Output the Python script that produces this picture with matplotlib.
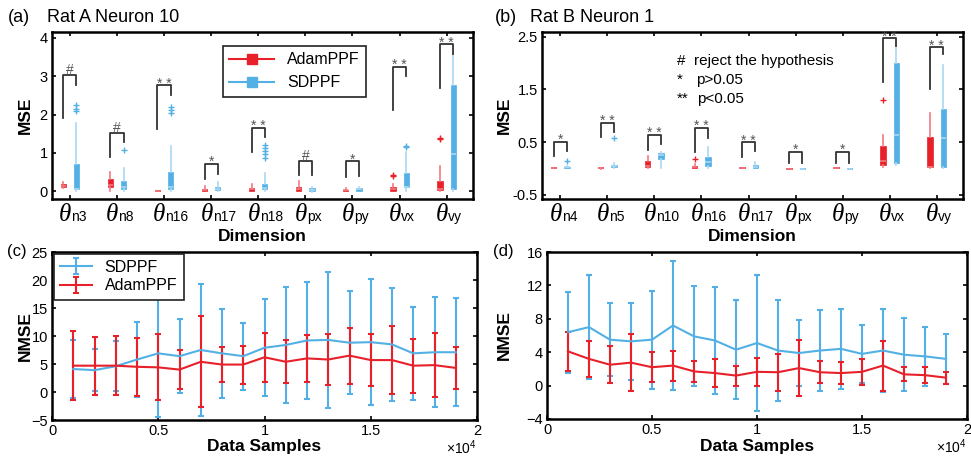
import matplotlib
matplotlib.use("Agg")
import matplotlib.pyplot as plt
from matplotlib.lines import Line2D

plt.rcParams['font.family'] = ['Liberation Sans', 'DejaVu Sans']
plt.rcParams['mathtext.fontset'] = 'custom'
plt.rcParams['mathtext.rm'] = 'Liberation Sans'

RED = '#E8202A'
BLUE = '#52B0E5'
RED_LT = '#F27A80'
BLUE_LT = '#A9D8F3'

# ---- panel (a): Rat A Neuron 10, box stats per dimension ----
a_labels = ['n3', 'n8', 'n16', 'n17', 'n18', 'px', 'py', 'vx', 'vy']
a_adam_lo = [0.09, 0.00, 0.00, 0.00, 0.00, 0.00, 0.00, 0.00, 0.00]
a_adam_q1 = [0.11, 0.10, 0.01, 0.01, 0.02, 0.02, 0.01, 0.02, 0.03]
a_adam_med = [0.15, 0.17, 0.02, 0.03, 0.05, 0.05, 0.03, 0.06, 0.05]
a_adam_q3 = [0.18, 0.32, 0.03, 0.06, 0.08, 0.10, 0.04, 0.10, 0.27]
a_adam_hi = [0.24, 0.50, 0.04, 0.15, 0.18, 0.27, 0.08, 0.20, 0.67]
a_adam_out = [[], [], [], [], [], [], [], [0.40, 0.43], [1.37, 1.40]]
a_sd_lo = [0.00, 0.00, 0.00, 0.00, 0.00, -0.01, 0.00, 0.00, 0.00]
a_sd_q1 = [0.05, 0.05, 0.07, 0.03, 0.05, 0.00, 0.02, 0.10, 0.05]
a_sd_med = [0.07, 0.10, 0.10, 0.06, 0.08, 0.03, 0.05, 0.12, 0.97]
a_sd_q3 = [0.72, 0.27, 0.50, 0.10, 0.20, 0.08, 0.08, 0.47, 2.77]
a_sd_hi = [1.78, 0.62, 1.18, 0.25, 0.48, 0.10, 0.10, 1.03, 3.58]
a_sd_out = [[2.10, 2.15, 2.25], [1.08], [2.05, 2.12, 2.20], [], [0.88, 0.96, 1.04, 1.12, 1.20],
            [], [], [1.15, 1.17], []]
a_br_left = [1.90, 0.90, 1.63, 0.33, 1.03, 0.42, 0.37, 2.13, 2.68]
a_br_top = [3.03, 1.52, 2.76, 0.72, 1.65, 0.79, 0.78, 3.24, 3.83]
a_br_right = [2.77, 1.29, 2.52, 0.46, 1.42, 0.42, 0.39, 3.00, 3.57]
a_sig = ['#', '#', '**', '*', '**', '#', '*', '**', '**']

# ---- panel (b): Rat B Neuron 1 ----
b_labels = ['n4', 'n5', 'n10', 'n16', 'n17', 'px', 'py', 'vx', 'vy']
b_adam_lo = [0.00, -0.01, 0.00, 0.00, 0.00, -0.01, 0.00, 0.03, 0.00]
b_adam_q1 = [0.00, 0.00, 0.02, 0.00, 0.00, -0.01, 0.00, 0.07, 0.02]
b_adam_med = [0.01, 0.01, 0.04, 0.02, 0.01, -0.01, 0.01, 0.15, 0.03]
b_adam_q3 = [0.02, 0.02, 0.15, 0.05, 0.02, 0.00, 0.02, 0.43, 0.60]
b_adam_hi = [0.03, 0.03, 0.23, 0.08, 0.03, 0.00, 0.03, 0.64, 1.05]
b_adam_out = [[], [], [], [0.17], [], [], [], [1.30], []]
b_sd_lo = [0.00, 0.00, 0.00, 0.00, 0.00, -0.01, -0.01, 0.07, 0.00]
b_sd_q1 = [0.00, 0.02, 0.17, 0.05, 0.01, -0.01, -0.01, 0.10, 0.03]
b_sd_med = [0.02, 0.04, 0.25, 0.12, 0.03, -0.01, -0.01, 0.63, 0.57]
b_sd_q3 = [0.03, 0.07, 0.30, 0.22, 0.06, 0.00, 0.00, 2.00, 1.12]
b_sd_hi = [0.05, 0.10, 0.31, 0.40, 0.13, 0.00, 0.00, 2.30, 1.97]
b_sd_out = [[0.14], [0.57], [], [], [], [], [], [], []]
b_br_left = [0.24, 0.60, 0.35, 0.32, 0.21, 0.10, 0.10, 1.64, 1.50]
b_br_top = [0.51, 0.87, 0.64, 0.77, 0.50, 0.32, 0.32, 2.47, 2.30]
b_br_right = [0.34, 0.70, 0.47, 0.58, 0.34, 0.10, 0.10, 2.33, 2.17]
b_sig = ['*', '**', '**', '**', '**', '*', '*', '**', '**']

# ---- panels (c), (d): NMSE vs data samples (mean, std) ----
samples = [1000, 2000, 3000, 4000, 5000, 6000, 7000, 8000, 9000, 10000,
           11000, 12000, 13000, 14000, 15000, 16000, 17000, 18000, 19000]
c_sd_mean = [4.1, 3.9, 4.6, 5.8, 6.9, 6.4, 7.5, 6.9, 6.4, 7.9, 8.4, 9.2, 9.3, 8.8, 8.9, 8.5, 6.9, 7.1, 7.1]
c_sd_std = [5.2, 3.7, 4.5, 6.7, 11.4, 6.6, 11.7, 8.0, 6.0, 8.7, 10.3, 10.5, 12.2, 9.2, 11.3, 10.1, 8.3, 9.8, 9.6]
c_adam_mean = [4.7, 4.7, 4.7, 4.5, 4.4, 4.0, 5.4, 4.9, 4.9, 6.2, 5.4, 6.0, 5.8, 6.5, 5.7, 5.7, 4.7, 4.8, 4.3]
c_adam_std = [6.2, 5.2, 5.3, 5.2, 5.9, 3.5, 8.1, 3.2, 3.4, 4.4, 3.8, 4.2, 4.6, 5.0, 4.7, 6.1, 4.8, 5.7, 3.8]
d_sd_mean = [6.4, 7.0, 5.5, 5.3, 5.5, 7.2, 5.9, 5.4, 4.3, 5.1, 4.2, 3.9, 4.2, 4.4, 3.8, 4.2, 3.7, 3.5, 3.2]
d_sd_std = [4.85, 6.2, 4.4, 4.6, 5.85, 7.7, 6.0, 6.4, 5.9, 8.15, 6.1, 3.9, 4.8, 4.75, 3.5, 5.0, 4.4, 3.5, 3.0]
d_adam_mean = [4.1, 3.2, 2.5, 2.75, 2.2, 2.4, 1.7, 1.5, 1.2, 1.65, 1.6, 2.1, 1.6, 1.5, 1.65, 2.4, 1.35, 1.25, 0.95]
d_adam_std = [2.35, 2.2, 2.2, 3.45, 1.8, 1.8, 1.3, 1.7, 1.2, 1.65, 2.2, 3.4, 1.3, 1.3, 1.55, 3.0, 0.85, 0.95, 0.7]


def make_stats(lo, q1, med, q3, hi, out):
    return [dict(whislo=lo[i], q1=q1[i], med=med[i], q3=q3[i], whishi=hi[i], fliers=out[i])
            for i in range(len(lo))]


def style_axes(ax):
    for sp in ax.spines.values():
        sp.set_linewidth(1.8)
    ax.tick_params(direction='in', top=True, right=True, length=3, width=1.2,
                   labelsize=10.5, pad=3)


def draw_boxes(ax, stats, pos, color, light):
    ax.bxp(stats, positions=pos, widths=0.11, patch_artist=True, showcaps=False,
           boxprops=dict(facecolor=color, edgecolor=color, linewidth=0.5),
           whiskerprops=dict(color=light, linewidth=1.2),
           medianprops=dict(color=light, linewidth=1.2),
           flierprops=dict(marker='+', markeredgecolor=color, markersize=4, markeredgewidth=1),
           manage_ticks=False)


def box_panel(ax, labels, adam, sd, br_left, br_top, br_right, sig):
    n = len(labels)
    pos = list(range(1, n + 1))
    d = 0.14
    draw_boxes(ax, make_stats(*adam), [p - d for p in pos], RED, RED_LT)
    draw_boxes(ax, make_stats(*sd), [p + d for p in pos], BLUE, BLUE_LT)
    tr = ax.get_xaxis_transform()
    for i, p in enumerate(pos):
        ax.plot([p - d, p - d, p + d, p + d], [br_left[i], br_top[i], br_top[i], br_right[i]],
                color='#333333', lw=1.3)
        if sig[i] == '#':
            s, dy = '#', 1.0
        else:
            s, dy = ' '.join(sig[i]), -1.8
        ax.annotate(s, (p, br_top[i]), xytext=(0, dy), textcoords='offset points',
                    ha='center', va='baseline', fontsize=10, color='#555555')
        # theta tick labels: big italic serif theta + small sans subscript
        ax.annotate('\u03b8', (p, 0), xycoords=tr, xytext=(1, -16),
                    textcoords='offset points', ha='right', va='baseline',
                    fontsize=18, family='Liberation Serif', style='italic')
        ax.annotate(labels[i], (p, 0), xycoords=tr, xytext=(1, -16),
                    textcoords='offset points', ha='left', va='baseline', fontsize=10)
    ax.set_xticks(pos)
    ax.set_xticklabels([''] * n)
    ax.set_xlabel('Dimension', fontsize=12.5, fontweight='bold')
    ax.xaxis.set_label_coords(0.5, -0.18)
    ax.set_ylabel('MSE', fontsize=12.5, fontweight='bold')


fig = plt.figure(figsize=(9.71, 4.62), dpi=100)
W, H = 971.0, 462.0

# (a)
ax_a = fig.add_axes([52 / W, 1 - 199 / H, 421 / W, 167 / H])
box_panel(ax_a, a_labels,
          (a_adam_lo, a_adam_q1, a_adam_med, a_adam_q3, a_adam_hi, a_adam_out),
          (a_sd_lo, a_sd_q1, a_sd_med, a_sd_q3, a_sd_hi, a_sd_out),
          a_br_left, a_br_top, a_br_right, a_sig)
ax_a.set_xlim(0.62, 9.56)
ax_a.set_ylim(-0.2, 4.15)
ax_a.set_yticks([0, 1, 2, 3, 4])
ax_a.yaxis.set_label_coords(-0.045, 0.5)
style_axes(ax_a)
hl = [Line2D([], [], color=RED, marker='s', markersize=7, lw=1.5),
      Line2D([], [], color=BLUE, marker='s', markersize=7, lw=1.5)]
leg = ax_a.legend(hl, ['AdamPPF', 'SDPPF'], loc='upper left', bbox_to_anchor=(0.406, 0.916),
                  fontsize=11.5, fancybox=False, framealpha=1, edgecolor='#222222',
                  handlelength=2.8, borderaxespad=0)
leg.get_frame().set_linewidth(1.2)

# (b)
ax_b = fig.add_axes([542 / W, 1 - 199 / H, 421 / W, 167 / H])
box_panel(ax_b, b_labels,
          (b_adam_lo, b_adam_q1, b_adam_med, b_adam_q3, b_adam_hi, b_adam_out),
          (b_sd_lo, b_sd_q1, b_sd_med, b_sd_q3, b_sd_hi, b_sd_out),
          b_br_left, b_br_top, b_br_right, b_sig)
ax_b.set_xlim(0.61, 9.56)
ax_b.set_ylim(-0.58, 2.59)
ax_b.set_yticks([-0.5, 0.5, 1.5, 2.5])
ax_b.set_yticklabels(['-0.5', '0.5', '1.5', '2.5'])
ax_b.yaxis.set_label_coords(-0.071, 0.5)
style_axes(ax_b)
for sym, txt, xs, ys in [('#', 'reject the hypothesis', 0.361, 0.826),
                         ('*', 'p>0.05', 0.365, 0.713),
                         ('**', 'p<0.05', 0.368, 0.60)]:
    ax_b.text(0.32, ys, sym, transform=ax_b.transAxes, fontsize=11, va='center')
    ax_b.text(xs, ys, txt, transform=ax_b.transAxes, fontsize=11, va='center')


def err_panel(ax, sd_m, sd_s, ad_m, ad_s):
    eb1 = ax.errorbar(samples, sd_m, yerr=sd_s, color=BLUE, lw=1.5, elinewidth=1.5,
                      capsize=2.3, capthick=1.5)
    eb2 = ax.errorbar(samples, ad_m, yerr=ad_s, color=RED, lw=1.5, elinewidth=1.5,
                      capsize=2.3, capthick=1.5)
    ax.set_xlim(0, 20000)
    ax.set_xticks([0, 5000, 10000, 15000, 20000])
    ax.set_xticklabels(['0', '0.5', '1', '1.5', '2'])
    ax.set_xlabel('Data Samples', fontsize=12.5, fontweight='bold')
    ax.set_ylabel('NMSE', fontsize=12.5, fontweight='bold')
    ax.text(1.0, -0.165, r'$\times10^{4}$', transform=ax.transAxes, ha='right', va='center',
            fontsize=10)
    style_axes(ax)
    return eb1, eb2


# (c)
ax_c = fig.add_axes([52 / W, 1 - 420 / H, 425 / W, 168 / H])
e1, e2 = err_panel(ax_c, c_sd_mean, c_sd_std, c_adam_mean, c_adam_std)
ax_c.set_ylim(-5, 25)
ax_c.set_yticks([-5, 0, 5, 10, 15, 20, 25])
ax_c.xaxis.set_label_coords(0.5, -0.113)
ax_c.yaxis.set_label_coords(-0.045, 0.5)
leg = ax_c.legend([e1, e2], ['SDPPF', 'AdamPPF'], loc='upper left', fontsize=11.5,
                  fancybox=False, framealpha=1, edgecolor='#222222', handlelength=2.0,
                  borderaxespad=0.1, labelspacing=0.2)
leg.get_frame().set_linewidth(1.2)

# (d)
ax_d = fig.add_axes([547 / W, 1 - 419 / H, 420 / W, 167 / H])
err_panel(ax_d, d_sd_mean, d_sd_std, d_adam_mean, d_adam_std)
ax_d.set_ylim(-4, 16)
ax_d.set_yticks([-4, 0, 4, 8, 12, 16])
ax_d.xaxis.set_label_coords(0.5, -0.12)
ax_d.yaxis.set_label_coords(-0.083, 0.5)

# panel labels
fig.text(8 / W, 1 - 22 / H, '(a)', fontsize=13, va='baseline')
fig.text(47 / W, 1 - 22 / H, 'Rat A Neuron 10', fontsize=13, va='baseline')
fig.text(495 / W, 1 - 22 / H, '(b)', fontsize=13, va='baseline')
fig.text(530 / W, 1 - 22 / H, 'Rat B Neuron 1', fontsize=13, va='baseline')
fig.text(7 / W, 1 - 256 / H, '(c)', fontsize=12, va='baseline')
fig.text(493 / W, 1 - 256 / H, '(d)', fontsize=12, va='baseline')

fig.savefig('out.png', dpi=100)
